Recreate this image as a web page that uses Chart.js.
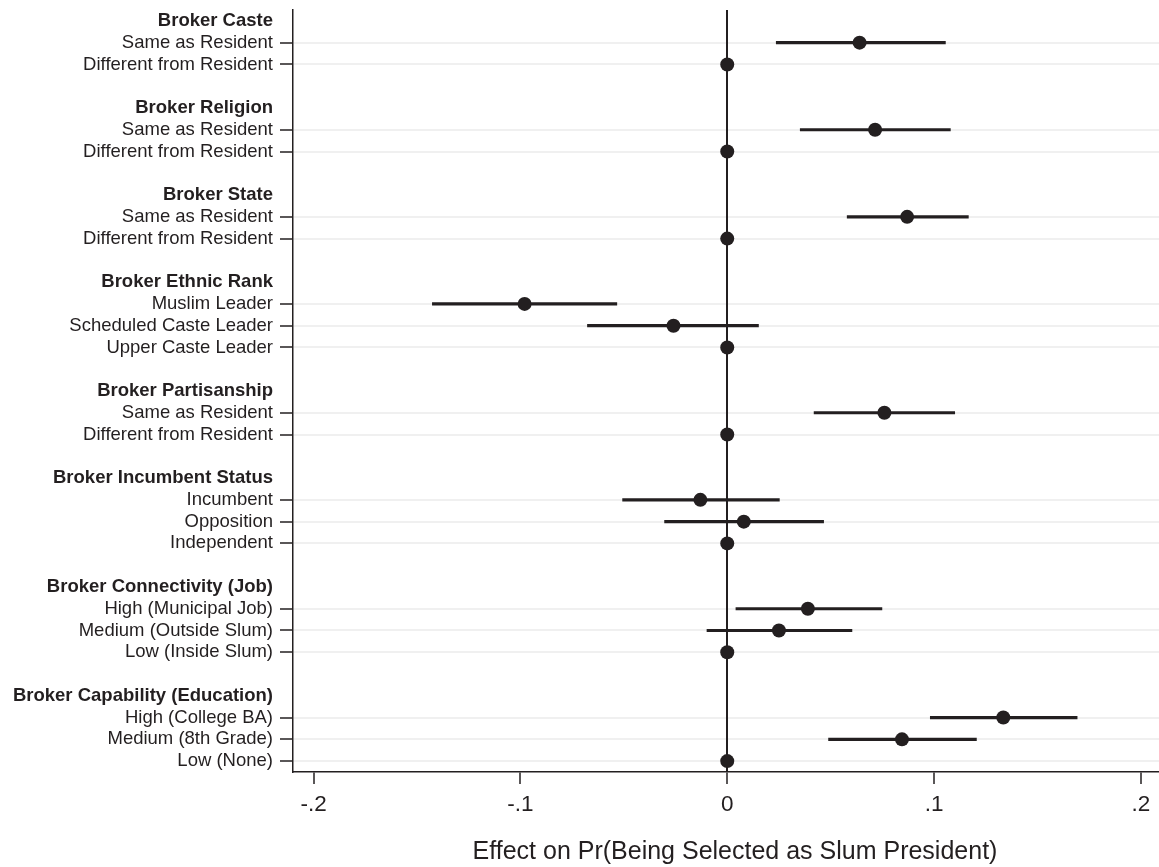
<!DOCTYPE html>
<html>
<head>
<meta charset="utf-8">
<script src="https://cdn.jsdelivr.net/npm/chart.js@4.4.1/dist/chart.umd.min.js"></script>
<style>
  html, body { margin: 0; padding: 0; background: #fff; overflow: hidden; }
  #wrap { position: absolute; left: 0; top: 0; width: 1184px; height: 867px; }
</style>
</head>
<body>
<div id="wrap"><canvas id="coefChart"></canvas></div>
<script>
// rows from top to bottom, '' = spacer row
const rowLabels = [
  'Broker Caste', 'Same as Resident', 'Different from Resident', '',
  'Broker Religion', 'Same as Resident', 'Different from Resident', '',
  'Broker State', 'Same as Resident', 'Different from Resident', '',
  'Broker Ethnic Rank', 'Muslim Leader', 'Scheduled Caste Leader', 'Upper Caste Leader', '',
  'Broker Partisanship', 'Same as Resident', 'Different from Resident', '',
  'Broker Incumbent Status', 'Incumbent', 'Opposition', 'Independent', '',
  'Broker Connectivity (Job)', 'High (Municipal Job)', 'Medium (Outside Slum)', 'Low (Inside Slum)', '',
  'Broker Capability (Education)', 'High (College BA)', 'Medium (8th Grade)', 'Low (None)'
];
const groupHeaders = [
  'Broker Caste', 'Broker Religion', 'Broker State', 'Broker Ethnic Rank',
  'Broker Partisanship', 'Broker Incumbent Status', 'Broker Connectivity (Job)',
  'Broker Capability (Education)'
];

// point estimates (null = no marker)
const estimates = [
  null, 0.064, 0, null,
  null, 0.0715, 0, null,
  null, 0.087, 0, null,
  null, -0.098, -0.026, 0, null,
  null, 0.076, 0, null,
  null, -0.013, 0.008, 0, null,
  null, 0.039, 0.025, 0, null,
  null, 0.1335, 0.0845, 0
];
// 95% interval bounds (null = baseline category)
const ciLow = [
  null, 0.0237, null, null,
  null, 0.0353, null, null,
  null, 0.058, null, null,
  null, -0.1426, -0.0676, null, null,
  null, 0.042, null, null,
  null, -0.0506, -0.0303, null, null,
  null, 0.0042, -0.0098, null, null,
  null, 0.0982, 0.049, null
];
const ciHigh = [
  null, 0.1055, null, null,
  null, 0.1079, null, null,
  null, 0.1166, null, null,
  null, -0.0534, 0.0151, null, null,
  null, 0.110, null, null,
  null, 0.0252, 0.0466, null, null,
  null, 0.0748, 0.0603, null, null,
  null, 0.1692, 0.1205, null
];
const xTicks = [-0.2, -0.1, 0, 0.1, 0.2];
const xTitle = 'Effect on Pr(Being Selected as Slum President)';

const ink = '#231f20';
const fontFam = '"Liberation Sans", Arial, Helvetica, sans-serif';

const isHeader = i => groupHeaders.includes(rowLabels[i]);
const isDataRow = i => rowLabels[i] !== '' && !isHeader(i);

const intervals = ciLow.map((lo, i) => (lo === null ? null : [lo, ciHigh[i]]));

function fmtTick(v) {
  if (Math.abs(v) < 1e-9) return '0';
  const s = String(Math.round(v * 10) / 10);
  return s.replace('0.', '.');
}

new Chart(document.getElementById('coefChart'), {
  type: 'bar',
  data: {
    labels: rowLabels,
    datasets: [
      {
        type: 'bar',
        indexAxis: 'y',
        data: intervals,
        backgroundColor: ink,
        borderWidth: 0,
        barThickness: 2.5,
        order: 2
      },
      {
        type: 'line',
        indexAxis: 'y',
        data: estimates,
        showLine: false,
        pointRadius: 7,
        pointHoverRadius: 7,
        pointBackgroundColor: ink,
        pointBorderWidth: 0,
        order: 1
      }
    ]
  },
  options: {
    indexAxis: 'y',
    responsive: true,
    maintainAspectRatio: false,
    animation: false,
    layout: { padding: { top: 10, right: 0, bottom: 0, left: 0 } },
    plugins: {
      legend: { display: false },
      tooltip: { enabled: false }
    },
    scales: {
      x: {
        type: 'linear',
        position: 'bottom',
        min: -0.21,
        max: 0.2175,
        afterBuildTicks: scale => { scale.ticks = xTicks.map(v => ({ value: v })); },
        afterFit: scale => { scale.height = 95; },
        ticks: {
          color: ink,
          padding: 7,
          font: { family: fontFam, size: 22.5 },
          callback: v => fmtTick(v)
        },
        grid: {
          z: -1,
          color: ctx => (ctx.tick && Math.abs(ctx.tick.value) < 1e-9 ? ink : 'rgba(0,0,0,0)'),
          lineWidth: 2,
          tickColor: ink,
          tickWidth: 1.5,
          tickLength: 12
        },
        border: { display: true, color: ink, width: 1.5 },
        title: {
          display: true,
          text: xTitle,
          color: ink,
          font: { family: fontFam, size: 25 },
          padding: { top: 0, bottom: 0 }
        }
      },
      y: {
        type: 'category',
        offset: true,
        afterFit: scale => {
          scale.width = 293;
          scale.paddingTop = 0;
          scale.paddingBottom = 0;
        },
        ticks: {
          autoSkip: false,
          color: ink,
          padding: 7,
          font: ctx => ({
            family: fontFam,
            size: 18.5,
            weight: isHeader(ctx.index) ? 'bold' : 'normal'
          })
        },
        grid: {
          z: -2,
          offset: false,
          color: ctx => (isDataRow(ctx.index) ? '#f0f0f0' : 'rgba(0,0,0,0)'),
          lineWidth: 2,
          tickColor: ctx => (isDataRow(ctx.index) ? ink : 'rgba(0,0,0,0)'),
          tickWidth: 1.5,
          tickLength: 13
        },
        border: { display: true, color: ink, width: 1.5 }
      }
    }
  }
});
</script>
</body>
</html>
